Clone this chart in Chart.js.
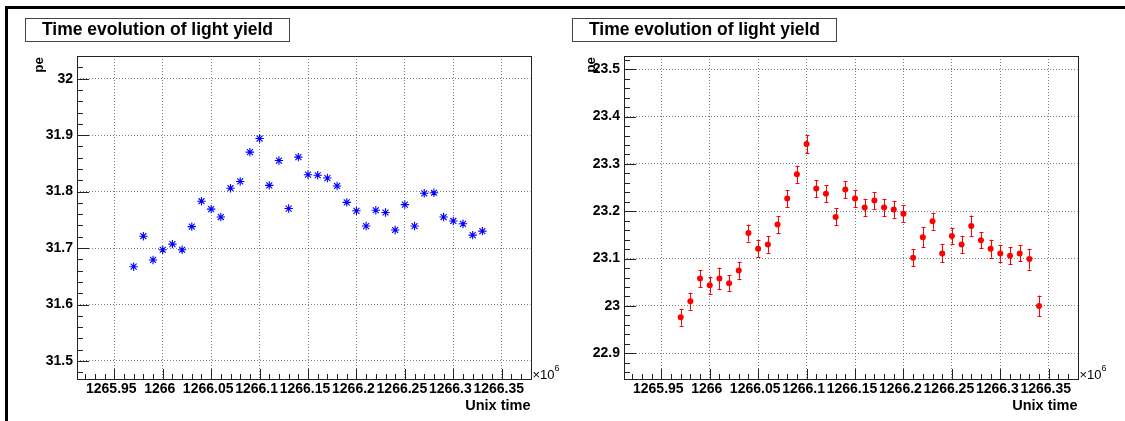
<!DOCTYPE html>
<html>
<head>
<meta charset="utf-8">
<script src="https://cdn.jsdelivr.net/npm/chart.js@4.4.1/dist/chart.umd.min.js"></script>
<style>
  body { margin: 0; background: #fff; }
  #page { position: relative; width: 1125px; height: 421px; overflow: hidden; background: #fff; }
  .edge { position: absolute; background: #000; }
  canvas { position: absolute; top: 0; }
</style>
</head>
<body>
<div id="page">
  <div class="edge" style="left:5px;top:6px;width:1120px;height:3px"></div>
  <div class="edge" style="left:5px;top:6px;width:3px;height:415px"></div>
  <canvas id="left" width="560" height="421" style="left:0"></canvas>
  <canvas id="right" width="560" height="421" style="left:547px"></canvas>
</div>
<script>
const TITLE = 'Time evolution of light yield';
const X_TITLE = 'Unix time';
const Y_TITLE = 'pe';

// time, in units of 10^6 s
const timeLeft = [1265.97, 1265.98, 1265.99, 1266.00, 1266.01, 1266.02, 1266.03, 1266.04, 1266.05, 1266.06,
                  1266.07, 1266.08, 1266.09, 1266.10, 1266.11, 1266.12, 1266.13, 1266.14, 1266.15, 1266.16,
                  1266.17, 1266.18, 1266.19, 1266.20, 1266.21, 1266.22, 1266.23, 1266.24, 1266.25, 1266.26,
                  1266.27, 1266.28, 1266.29, 1266.30, 1266.31, 1266.32, 1266.33];
const yieldLeft = [31.667, 31.721, 31.679, 31.697, 31.707, 31.697, 31.738, 31.783, 31.769, 31.755,
                   31.806, 31.818, 31.870, 31.894, 31.811, 31.855, 31.770, 31.861, 31.830, 31.829,
                   31.824, 31.810, 31.781, 31.766, 31.739, 31.767, 31.763, 31.732, 31.777, 31.739,
                   31.797, 31.798, 31.755, 31.748, 31.743, 31.723, 31.730];

const timeRight = [1265.97, 1265.98, 1265.99, 1266.00, 1266.01, 1266.02, 1266.03, 1266.04, 1266.05, 1266.06,
                   1266.07, 1266.08, 1266.09, 1266.10, 1266.11, 1266.12, 1266.13, 1266.14, 1266.15, 1266.16,
                   1266.17, 1266.18, 1266.19, 1266.20, 1266.21, 1266.22, 1266.23, 1266.24, 1266.25, 1266.26,
                   1266.27, 1266.28, 1266.29, 1266.30, 1266.31, 1266.32, 1266.33, 1266.34];
const yieldRight = [22.976, 23.010, 23.058, 23.044, 23.058, 23.048, 23.075, 23.154, 23.121, 23.130,
                    23.172, 23.227, 23.278, 23.342, 23.248, 23.237, 23.188, 23.246, 23.227, 23.208,
                    23.223, 23.208, 23.204, 23.195, 23.102, 23.145, 23.179, 23.111, 23.148, 23.130,
                    23.169, 23.139, 23.121, 23.111, 23.106, 23.111, 23.099, 23.000];
const yieldRightErr = [0.018, 0.018, 0.018, 0.018, 0.023, 0.017, 0.018, 0.018, 0.018, 0.018,
                       0.018, 0.018, 0.018, 0.019, 0.018, 0.018, 0.018, 0.018, 0.018, 0.018,
                       0.018, 0.018, 0.018, 0.018, 0.018, 0.021, 0.018, 0.019, 0.017, 0.018,
                       0.022, 0.017, 0.019, 0.018, 0.018, 0.017, 0.022, 0.022];

const xTicks = [1265.95, 1266, 1266.05, 1266.1, 1266.15, 1266.2, 1266.25, 1266.3, 1266.35];
const xTickLabels = ['1265.95', '1266', '1266.05', '1266.1', '1266.15', '1266.2', '1266.25', '1266.3', '1266.35'];
const yTicksLeft = [31.5, 31.6, 31.7, 31.8, 31.9, 32];
const yTickLabelsLeft = ['31.5', '31.6', '31.7', '31.8', '31.9', '32'];
const yTicksRight = [22.9, 23, 23.1, 23.2, 23.3, 23.4, 23.5];
const yTickLabelsRight = ['22.9', '23', '23.1', '23.2', '23.3', '23.4', '23.5'];

const FONT = '"Liberation Sans", Arial, Helvetica, sans-serif';
const GRID = 'rgba(0,0,0,0.5)';
const FRAME = '#222';

// ROOT look: frame, inward ticks, title box, axis titles
const rootStyle = {
    id: 'rootStyle',
    afterDraw(chart, args, opts) {
        const ctx = chart.ctx;
        const a = chart.chartArea;
        const xs = chart.scales.x, ys = chart.scales.y;
        ctx.save();
        ctx.strokeStyle = FRAME;
        ctx.lineWidth = 1;

        // ticks pointing into the frame
        ctx.beginPath();
        const drawTicks = (scale, minor, major, fn) => {
            const k0 = Math.ceil(scale.min / minor - 1e-6), k1 = Math.floor(scale.max / minor + 1e-6);
            for (let k = k0; k <= k1; k++) {
                const v = k * minor;
                const r = v / major;
                fn(scale.getPixelForValue(v), Math.abs(r - Math.round(r)) < 1e-6);
            }
        };
        drawTicks(xs, opts.xMinor, opts.xMajor, (p, big) => {
            const x = Math.round(p) + 0.5;
            ctx.moveTo(x, a.bottom);
            ctx.lineTo(x, a.bottom - (big ? 10 : 5));
        });
        drawTicks(ys, opts.yMinor, opts.yMajor, (p, big) => {
            const y = Math.round(p) + 0.5;
            ctx.moveTo(a.left, y);
            ctx.lineTo(a.left + (big ? 12 : 6), y);
        });
        ctx.stroke();

        // frame
        ctx.strokeRect(Math.round(a.left) + 0.5, Math.round(a.top) + 0.5,
                       Math.round(a.right - a.left), Math.round(a.bottom - a.top));

        // title box
        ctx.fillStyle = '#fff';
        ctx.fillRect(25, 18, 265, 24);
        ctx.strokeStyle = '#444';
        ctx.strokeRect(25.5, 18.5, 264, 23);
        ctx.fillStyle = '#000';
        ctx.font = 'bold 17.5px ' + FONT;
        ctx.textAlign = 'center';
        ctx.textBaseline = 'middle';
        ctx.fillText(TITLE, 157.5, 30.5);

        // axis titles
        ctx.font = 'bold 14.5px ' + FONT;
        ctx.textAlign = 'right';
        ctx.fillText(X_TITLE, a.right, 406);

        ctx.save();
        ctx.translate(opts.yTitleX, a.top + 1);
        ctx.rotate(-Math.PI / 2);
        ctx.font = 'bold 13.5px ' + FONT;
        ctx.textAlign = 'right';
        ctx.fillText(Y_TITLE, 0, 0);
        ctx.restore();

        // x10^6 exponent
        ctx.textAlign = 'left';
        ctx.font = '13px ' + FONT;
        ctx.fillText('\u00d710', a.right + 2, 375);
        const w = ctx.measureText('\u00d710').width;
        ctx.font = '9px ' + FONT;
        ctx.fillText('6', a.right + 2 + w, 369);
        ctx.restore();
    }
};

// vertical error bars with small caps
const errorBars = {
    id: 'errorBars',
    beforeDatasetsDraw(chart) {
        const ctx = chart.ctx;
        const xs = chart.scales.x, ys = chart.scales.y;
        ctx.save();
        ctx.strokeStyle = '#ff0000';
        ctx.lineWidth = 1;
        ctx.beginPath();
        timeRight.forEach((t, i) => {
            const x = Math.round(xs.getPixelForValue(t)) + 0.5;
            const y1 = ys.getPixelForValue(yieldRight[i] - yieldRightErr[i]);
            const y2 = ys.getPixelForValue(yieldRight[i] + yieldRightErr[i]);
            ctx.moveTo(x, y1); ctx.lineTo(x, y2);
            ctx.moveTo(x - 2, Math.round(y1) + 0.5); ctx.lineTo(x + 2, Math.round(y1) + 0.5);
            ctx.moveTo(x - 2, Math.round(y2) + 0.5); ctx.lineTo(x + 2, Math.round(y2) + 0.5);
        });
        ctx.stroke();
        ctx.restore();
    }
};

function makePanel(id, cfg) {
    const tickFont = { family: FONT, size: 14, weight: 'bold' };
    return new Chart(document.getElementById(id), {
        type: 'scatter',
        data: {
            datasets: [{
                data: cfg.times.map((t, i) => ({ x: t, y: cfg.values[i] })),
                ...cfg.marker
            }]
        },
        options: {
            responsive: false,
            animation: false,
            devicePixelRatio: 1,
            layout: { padding: { top: 56, right: 29.5, bottom: 0, left: 0 } },
            plugins: {
                legend: { display: false },
                tooltip: { enabled: false },
                rootStyle: { xMinor: 0.01, xMajor: 0.05, yMinor: 0.02, yMajor: 0.1, yTitleX: cfg.yTitleX }
            },
            scales: {
                x: {
                    type: 'linear',
                    bounds: 'data',
                    min: 1265.9115,
                    max: 1266.3797,
                    afterBuildTicks: s => { s.ticks = xTicks.map(v => ({ value: v })); },
                    afterFit: s => { s.height = 42; },
                    ticks: {
                        autoSkip: false, maxRotation: 0, minRotation: 0, padding: 2,
                        labelOffset: -3,
                        color: '#000', font: tickFont,
                        callback: (v, i) => xTickLabels[i]
                    },
                    grid: { color: GRID, drawTicks: false },
                    border: { display: false, dash: [1, 2] }
                },
                y: {
                    type: 'linear',
                    bounds: 'data',
                    min: cfg.yMin,
                    max: cfg.yMax,
                    afterBuildTicks: s => { s.ticks = cfg.yTicks.map(v => ({ value: v })); },
                    afterFit: s => { s.width = 77; },
                    ticks: {
                        autoSkip: false, padding: 4,
                        color: '#000', font: tickFont,
                        callback: (v, i) => cfg.yLabels[i]
                    },
                    grid: { color: GRID, drawTicks: false },
                    border: { display: false, dash: [1, 2] }
                }
            }
        },
        plugins: cfg.extra ? [cfg.extra, rootStyle] : [rootStyle]
    });
}

makePanel('left', {
    times: timeLeft,
    values: yieldLeft,
    yMin: 31.4681, yMax: 32.0402,
    yTicks: yTicksLeft, yLabels: yTickLabelsLeft,
    yTitleX: 39,
    marker: {
        pointStyle: 'star', pointRadius: 4.2, borderWidth: 1.1,
        borderColor: '#0000ff', backgroundColor: '#0000ff'
    }
});

makePanel('right', {
    times: timeRight,
    values: yieldRight,
    yMin: 22.8457, yMax: 23.528,
    yTicks: yTicksRight, yLabels: yTickLabelsRight,
    yTitleX: 44.5,
    extra: errorBars,
    marker: {
        pointStyle: 'circle', pointRadius: 3, borderWidth: 0,
        borderColor: '#ff0000', backgroundColor: '#ff0000'
    }
});
</script>
</body>
</html>
